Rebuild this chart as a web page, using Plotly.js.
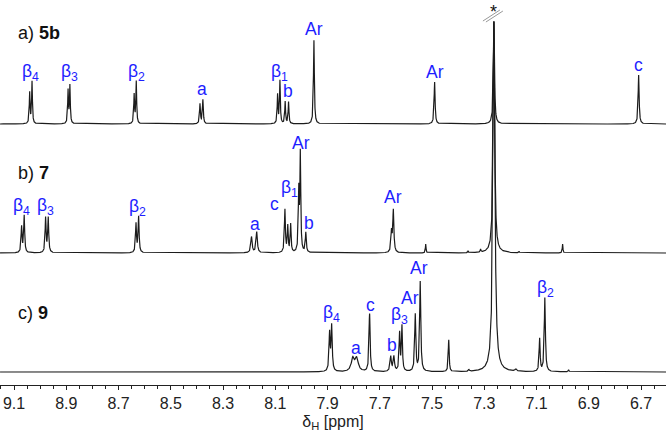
<!DOCTYPE html>
<html>
<head>
<meta charset="utf-8">
<script src="https://cdn.plot.ly/plotly-3.0.1.min.js"></script>
<style>html,body{margin:0;padding:0;background:#fff;}#chart{width:666px;height:434px;}</style>
</head>
<body>
<div id="chart"></div>
<script>
// ---- peak lists (ppm, height in plot px, half-width in ppm) ----
// a) 5b
const peaksA_ppm = [9.040, 9.031, 8.893, 8.886, 8.640, 8.632, 8.388, 8.377, 8.091, 8.082, 8.062, 8.049, 7.952, 7.490, 7.263, 6.709];
const peaksA_h   = [31, 42, 33, 38, 29, 42, 20, 24, 29, 43, 22, 22, 84, 42, 103, 49];
const peaksA_w   = [0.0018, 0.0018, 0.0018, 0.0018, 0.0018, 0.0018, 0.0020, 0.0020, 0.0018, 0.0018, 0.0018, 0.0018, 0.0020, 0.0022, 0.0025, 0.0022];
// b) 7
const peaksB_ppm = [9.071, 9.061, 8.979, 8.969, 8.633, 8.623, 8.191, 8.171, 8.063, 8.052, 8.041, 8.010, 8.004, 7.983, 7.655, 7.648, 7.524, 7.362, 7.314, 7.263, 7.167, 7.000];
const peaksB_h   = [26, 37, 35, 35, 29, 36, 16, 21, 43, 26, 28, 60, 98, 20, 20, 42, 9, 2, 3, 232, 1.5, 9];
const peaksB_w   = [0.0022, 0.0022, 0.0022, 0.0022, 0.0022, 0.0022, 0.0030, 0.0030, 0.0022, 0.0020, 0.0020, 0.0020, 0.0020, 0.0022, 0.0025, 0.0025, 0.0015, 0.0015, 0.0015, 0.0035, 0.0015, 0.0015];
// c) 9
const peaksC_ppm = [7.892, 7.884, 7.803, 7.788, 7.739, 7.658, 7.646, 7.624, 7.615, 7.564, 7.545, 7.436, 7.359, 7.179, 7.263, 7.088, 7.068, 6.977];
const peaksC_h   = [38, 45, 13, 13, 58, 15, 15, 38, 45, 57, 90, 32, 2, 2, 350, 33, 74, 2];
const peaksC_w   = [0.0025, 0.0025, 0.0070, 0.0070, 0.0025, 0.0030, 0.0030, 0.0022, 0.0022, 0.0025, 0.0025, 0.0020, 0.0020, 0.0040, 0.0045, 0.0022, 0.0025, 0.0020];

// baselines of the stacked spectra (plot units, 0 = x axis)
const baselines = [261, 132, 13];
const spectrumNames = ['a) <b>5b</b>', 'b) <b>7</b>', 'c) <b>9</b>'];
const nameY = [352, 212, 72];

// peak labels
const labA_text = ['β<sub>4</sub>', 'β<sub>3</sub>', 'β<sub>2</sub>', 'a', 'β<sub>1</sub>', 'b', 'Ar', 'Ar', 'c'];
const labA_ppm  = [9.035, 8.888, 8.630, 8.382, 8.082, 8.051, 7.952, 7.490, 6.709];
const labA_y    = [313, 313, 313, 296, 313, 294, 356, 313, 320];
const labB_text = ['β<sub>4</sub>', 'β<sub>3</sub>', 'β<sub>2</sub>', 'a', 'c', 'β<sub>1</sub>', 'Ar', 'b', 'Ar'];
const labB_ppm  = [9.071, 8.978, 8.628, 8.177, 8.101, 8.046, 8.003, 7.971, 7.649];
const labB_y    = [179, 179, 178, 161, 181, 197, 242, 162, 188];
const labC_text = ['β<sub>4</sub>', 'a', 'c', 'b', 'β<sub>3</sub>', 'Ar', 'Ar', 'β<sub>2</sub>'];
const labC_ppm  = [7.883, 7.792, 7.736, 7.652, 7.624, 7.583, 7.550, 7.066];
const labC_y    = [72, 37, 80, 40, 70, 87, 117, 97];

const solventPpm = 7.263;
const xTickVals = [9.1, 8.9, 8.7, 8.5, 8.3, 8.1, 7.9, 7.7, 7.5, 7.3, 7.1, 6.9, 6.7];

const xLeft = 9.1536, xRight = 6.6043;
const step = 0.0003;

function build(ppm, h, w, base) {
  const xs = [], ys = [];
  for (let x = xRight; x <= xLeft; x += step) {
    let y = base;
    for (let i = 0; i < ppm.length; i++) {
      const d = (x - ppm[i]) / w[i];
      y += h[i] / (1 + d * d);
    }
    xs.push(x); ys.push(y);
  }
  return {x: xs, y: ys};
}

const specs = [
  build(peaksA_ppm, peaksA_h, peaksA_w, baselines[0]),
  build(peaksB_ppm, peaksB_h, peaksB_w, baselines[1]),
  build(peaksC_ppm, peaksC_h, peaksC_w, baselines[2])
];
const traces = specs.map(s => ({
  type: 'scatter', mode: 'lines', x: s.x, y: s.y,
  line: {color: '#1c1c1c', width: 1.2}, hoverinfo: 'skip', showlegend: false
}));

const FONT = 'Arial, Liberation Sans, sans-serif';
const blue = '#1e1eff';
const ann = [];
function addLabels(t, p, y) {
  for (let i = 0; i < t.length; i++) {
    ann.push({x: p[i], y: y[i], xref: 'x', yref: 'y', text: t[i], showarrow: false,
      xanchor: 'center', yanchor: 'middle', font: {family: FONT, size: 17.5, color: blue}});
  }
}
addLabels(labA_text, labA_ppm, labA_y);
addLabels(labB_text, labB_ppm, labB_y);
addLabels(labC_text, labC_ppm, labC_y);
for (let i = 0; i < 3; i++) {
  ann.push({x: 9.092, y: nameY[i], xref: 'x', yref: 'y', text: spectrumNames[i], showarrow: false,
    xanchor: 'left', yanchor: 'middle', font: {family: FONT, size: 18, color: '#111'}});
}
ann.push({x: solventPpm, y: 385, xref: 'x', yref: 'y', text: '*', showarrow: false,
  xanchor: 'center', yanchor: 'top', font: {family: FONT, size: 18, color: '#111'}});

const pxPerPpm = 666 / (xLeft - xRight);
const shapes = [0, 1].map(k => ({
  type: 'line', xref: 'x', yref: 'y',
  x0: solventPpm + (11 - 3 * k) / pxPerPpm, y0: 364 - k,
  x1: solventPpm - (6 + 3 * k) / pxPerPpm, y1: 375 - k,
  line: {color: '#999', width: 1}
}));

const layout = {
  width: 666, height: 434,
  margin: {l: 0, r: 0, t: 0, b: 49},
  paper_bgcolor: '#fff', plot_bgcolor: '#fff',
  xaxis: {
    range: [xLeft, xRight], showgrid: false, zeroline: false,
    showline: true, linecolor: '#222', linewidth: 1,
    ticks: 'outside', ticklen: 4, tickcolor: '#222', tickwidth: 1,
    tickvals: xTickVals, ticktext: xTickVals.map(v => v.toFixed(1)),
    minor: {dtick: 0.05, tick0: 6.7, ticks: 'outside', ticklen: 3, tickcolor: '#222', tickwidth: 1},
    tickfont: {family: FONT, size: 16, color: '#222'},
    title: {text: 'δ<sub>H</sub> [ppm]', font: {family: FONT, size: 16, color: '#222'}, standoff: 4}
  },
  yaxis: {range: [0, 385], visible: false, showgrid: false, zeroline: false, fixedrange: true},
  annotations: ann, shapes: shapes
};
Plotly.newPlot('chart', traces, layout, {displayModeBar: false, staticPlot: true});
</script>
</body>
</html>
